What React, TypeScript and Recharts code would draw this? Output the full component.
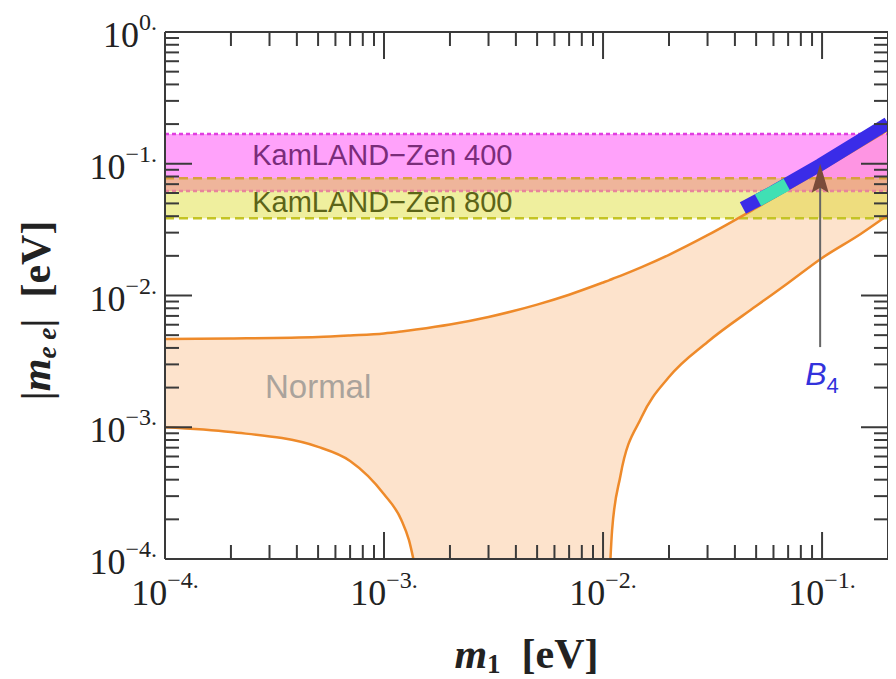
import React from 'react';
import {
  ComposedChart,
  Area,
  Line,
  XAxis,
  YAxis,
  ReferenceArea,
  ReferenceLine,
  ReferenceDot,
} from 'recharts';

const SERIF = '"Liberation Serif", "Times New Roman", serif';
const SANS = '"Liberation Sans", Arial, Helvetica, sans-serif';
const FRAME = '#3a3a3a';
const ORANGE = '#ee8a2a';

// lightest neutrino mass m1 [eV]
const m1Values = [
  1e-4, 2e-4, 5e-4, 7e-4, 1e-3, 1.2e-3, 1.3e-3, 1.4e-3, 2e-3, 3e-3, 5e-3, 7e-3,
  0.01, 0.0107, 0.011, 0.012, 0.015, 0.02, 0.03, 0.05, 0.07, 0.1, 0.15, 0.2,
];
// upper edge of the normal ordering band, |m_ee| [eV]
const normalUpper = [
  4.675e-3, 4.716e-3, 4.84e-3, 4.97e-3, 5.15e-3, 5.33e-3, 5.42e-3, 5.51e-3, 6.02e-3, 6.87e-3, 8.53e-3, 0.01014,
  0.01255, 0.01309, 0.01334, 0.01411, 0.01643, 0.02037, 0.02869, 0.04614, 0.0638, 0.0904, 0.1354, 0.1804,
];
// lower edge, null where it falls to zero
const normalLower = [
  1.0e-3, 9.2e-4, 7.1e-4, 5.55e-4, 3.1e-4, 1.98e-4, 1.39e-4, 8e-5, null, null, null, null,
  null, 7e-5, 1.66e-4, 4.27e-4, 1.196e-3, 2.406e-3, 4.44e-3, 8.32e-3, 0.01244, 0.01926, 0.0293, 0.0408,
];
const AXIS_FLOOR = 1e-4;

// B4 model points
const b4M1 = [0.0435, 0.0597, 0.098, 0.2];
const b4Mee = [0.0461, 0.0611, 0.098, 0.203];
const b4CyanM1 = [0.051, 0.069];
const b4CyanMee = [0.0528, 0.0695];

// KamLAND-Zen bounds [eV]
const kamland400 = [0.0621, 0.168];
const kamland800 = [0.0385, 0.0776];

// arrow pointing at B4
const arrowM1 = 0.098;
const arrowFrom = 0.00406;
const arrowTip = 0.1;

const xMajor = [1e-4, 1e-3, 1e-2, 1e-1];
const yMajor = [1e-4, 1e-3, 1e-2, 1e-1, 1];
const minorSteps = [2, 3, 4, 5, 6, 7, 8, 9];

const withMinor = (majors: number[], max: number) =>
  majors.flatMap((d) => [d, ...minorSteps.map((k) => k * d)]).filter((v) => v <= max * 1.0001);

const xTicks = withMinor(xMajor, 0.2);
const yTicks = withMinor(yMajor, 1);

const isMajor = (v: number) => {
  const e = Math.log10(v);
  return Math.abs(e - Math.round(e)) < 1e-6;
};

const expLabel = (v: number) => {
  const e = Math.round(Math.log10(v));
  return e === 0 ? '0.' : `\u2212${-e}.`;
};

const MAJOR_LEN = 27;
const MINOR_LEN = 14;

const TickLabel = ({ x, y, value, anchor }: any) => (
  <text x={x} y={y} textAnchor={anchor} fontFamily={SERIF} fontSize={36} fill="#222">
    <tspan>10</tspan>
    <tspan fontSize={24} dy={-17}>
      {expLabel(value)}
    </tspan>
  </text>
);

const BottomTick = ({ x, y, payload }: any) => {
  const major = isMajor(payload.value);
  return (
    <g>
      <line x1={x} y1={y} x2={x} y2={y - (major ? MAJOR_LEN : MINOR_LEN)} stroke={FRAME} strokeWidth={2} />
      {major && <TickLabel x={x} y={y + 46} value={payload.value} anchor="middle" />}
    </g>
  );
};

const TopTick = ({ x, y, payload }: any) => {
  const major = isMajor(payload.value);
  return <line x1={x} y1={y} x2={x} y2={y + (major ? MAJOR_LEN : MINOR_LEN)} stroke={FRAME} strokeWidth={2} />;
};

const LeftTick = ({ x, y, payload }: any) => {
  const major = isMajor(payload.value);
  return (
    <g>
      <line x1={x} y1={y} x2={x + (major ? MAJOR_LEN : MINOR_LEN)} y2={y} stroke={FRAME} strokeWidth={2} />
      {major && <TickLabel x={x - 8} y={y + 15} value={payload.value} anchor="end" />}
    </g>
  );
};

const RightTick = ({ x, y, payload }: any) => {
  const major = isMajor(payload.value);
  return <line x1={x} y1={y} x2={x - (major ? MAJOR_LEN : MINOR_LEN)} y2={y} stroke={FRAME} strokeWidth={2} />;
};

const XTitle = (props: any) => {
  const vb = props.viewBox || { x: 157, y: 551, width: 722 };
  return (
    <text x={vb.x + vb.width / 2} y={vb.y + 109} textAnchor="middle" fontFamily={SERIF} fontWeight="bold" fontSize={42} fill="#222">
      <tspan fontStyle="italic">m</tspan>
      <tspan fontSize={27} dy={5}>1</tspan>
      <tspan dy={-5}>{'\u00a0\u00a0[eV]'}</tspan>
    </text>
  );
};

const YTitle = (props: any) => {
  const vb = props.viewBox || { x: 0, y: 24, height: 527 };
  const cx = 42;
  const cy = vb.y + vb.height / 2 + 15;
  return (
    <text x={cx} y={cy} transform={`rotate(-90 ${cx} ${cy})`} textAnchor="middle" fontFamily={SERIF} fontWeight="bold" fontSize={42} fill="#222">
      <tspan>|</tspan>
      <tspan fontStyle="italic">m</tspan>
      <tspan fontStyle="italic" fontSize={27} dy={6}>{'e\u00a0e'}</tspan>
      <tspan dy={-6}>{'|\u00a0\u00a0[eV]'}</tspan>
    </text>
  );
};

const textAt = (content: React.ReactNode, attrs: any) => (p: any) => (
  <text x={p.cx} y={p.cy} {...attrs}>
    {content}
  </text>
);

const ArrowHead = (p: any) => (
  <polygon
    points={`${p.cx},${p.cy} ${p.cx - 8.5},${p.cy + 29} ${p.cx},${p.cy + 24} ${p.cx + 8.5},${p.cy + 29}`}
    fill="#7a4b3a"
  />
);

export default function App() {
  const table = m1Values.map((m1, i) => ({
    m1,
    upper: normalUpper[i],
    lower: normalLower[i],
    band: [normalLower[i] ?? AXIS_FLOOR, normalUpper[i]],
  }));
  const b4Data = b4M1.map((m1, i) => ({ m1, mee: b4Mee[i] }));
  const b4Cyan = b4CyanM1.map((m1, i) => ({ m1, mee: b4CyanMee[i] }));

  return (
    <>
      <style>{'html, body { overflow: hidden; }'}</style>
      <ComposedChart width={882} height={670} data={table} margin={{ top: 23, right: 1, bottom: 0, left: 0 }}>
        <Area dataKey="band" type="monotone" fill="#fde3cc" fillOpacity={1} stroke="none" isAnimationActive={false} />

        <ReferenceArea y1={kamland400[0]} y2={kamland400[1]} fill="#ff55f5" fillOpacity={0.55} stroke="none" />
        <ReferenceArea y1={kamland800[0]} y2={kamland800[1]} fill="#d4d400" fillOpacity={0.38} stroke="none" />
        <ReferenceLine y={kamland400[1]} stroke="#e03ee0" strokeWidth={2.5} strokeDasharray="4 3" />
        <ReferenceLine y={kamland400[0]} stroke="#e8849c" strokeWidth={2.5} strokeDasharray="4 3" />
        <ReferenceLine y={kamland800[1]} stroke="#d8a03c" strokeWidth={2.5} strokeDasharray="9 5" />
        <ReferenceLine y={kamland800[0]} stroke="#c4c424" strokeWidth={2.5} strokeDasharray="9 5" />

        <Line dataKey="upper" type="monotone" stroke={ORANGE} strokeWidth={2.5} dot={false} isAnimationActive={false} />
        <Line dataKey="lower" type="monotone" stroke={ORANGE} strokeWidth={2.5} dot={false} connectNulls={false} isAnimationActive={false} />

        <Line data={b4Data} dataKey="mee" type="linear" stroke="#3a2ce8" strokeWidth={13} dot={false} isAnimationActive={false} />
        <Line data={b4Cyan} dataKey="mee" type="linear" stroke="#40e0b4" strokeWidth={13} dot={false} isAnimationActive={false} />

        <ReferenceLine segment={[{ x: arrowM1, y: arrowFrom }, { x: arrowM1, y: 0.075 }]} stroke="#666" strokeWidth={2} />
        <ReferenceDot x={arrowM1} y={arrowTip} r={0} shape={ArrowHead} />

        <ReferenceDot x={2.5e-4} y={0.098} r={0} shape={textAt('KamLAND\u2212Zen 400', { fontFamily: SANS, fontSize: 29, fill: '#7a2c7a' })} />
        <ReferenceDot x={2.5e-4} y={0.043} r={0} shape={textAt('KamLAND\u2212Zen 800', { fontFamily: SANS, fontSize: 29, fill: '#5c6418' })} />
        <ReferenceDot x={2.86e-4} y={1.67e-3} r={0} shape={textAt('Normal', { fontFamily: SANS, fontSize: 33, fill: '#aaa39c' })} />
        <ReferenceDot
          x={0.1}
          y={2.09e-3}
          r={0}
          shape={textAt(
            [
              <tspan key="b">B</tspan>,
              <tspan key="s" fontSize={22} dy={8} fontStyle="normal">
                4
              </tspan>,
            ],
            { fontFamily: SANS, fontSize: 32, fontStyle: 'italic', fill: '#3232dc', textAnchor: 'middle' }
          )}
        />

        <XAxis
          dataKey="m1"
          type="number"
          scale="log"
          domain={[1e-4, 0.2]}
          allowDataOverflow
          ticks={xTicks}
          interval={0}
          tickSize={0}
          tickMargin={0}
          tickLine={false}
          height={119}
          axisLine={{ stroke: FRAME, strokeWidth: 2 }}
          tick={(p: any) => <BottomTick {...p} />}
          label={{ content: XTitle }}
        />
        <XAxis
          xAxisId="top"
          orientation="top"
          dataKey="m1"
          type="number"
          scale="log"
          domain={[1e-4, 0.2]}
          allowDataOverflow
          ticks={xTicks}
          interval={0}
          tickSize={0}
          tickMargin={0}
          tickLine={false}
          height={1}
          axisLine={{ stroke: FRAME, strokeWidth: 2 }}
          tick={(p: any) => <TopTick {...p} />}
        />
        <YAxis
          type="number"
          scale="log"
          domain={[1e-4, 1]}
          allowDataOverflow
          ticks={yTicks}
          interval={0}
          tickSize={0}
          tickMargin={0}
          tickLine={false}
          width={157}
          axisLine={{ stroke: FRAME, strokeWidth: 2 }}
          tick={(p: any) => <LeftTick {...p} />}
          label={{ content: YTitle }}
        />
        <YAxis
          yAxisId="right"
          orientation="right"
          type="number"
          scale="log"
          domain={[1e-4, 1]}
          allowDataOverflow
          ticks={yTicks}
          interval={0}
          tickSize={0}
          tickMargin={0}
          tickLine={false}
          width={1}
          axisLine={{ stroke: FRAME, strokeWidth: 2 }}
          tick={(p: any) => <RightTick {...p} />}
        />
      </ComposedChart>
    </>
  );
}
